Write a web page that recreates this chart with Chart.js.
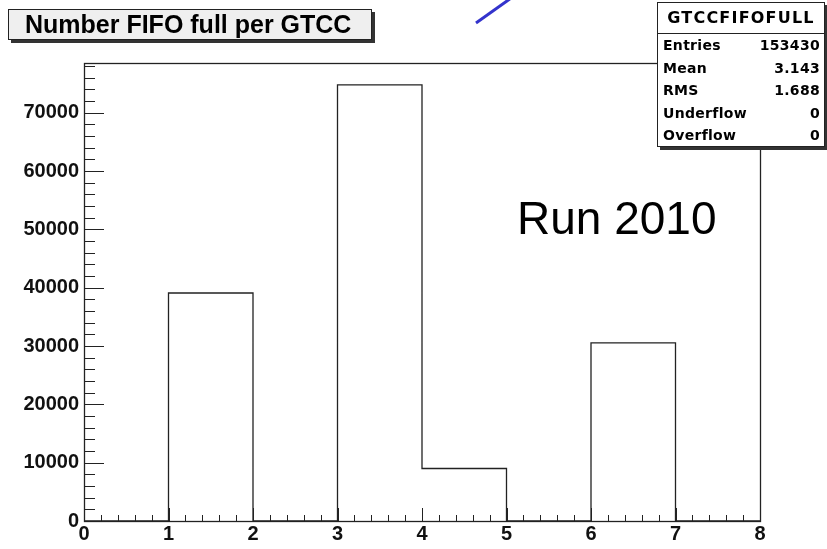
<!DOCTYPE html>
<html>
<head>
<meta charset="utf-8">
<script src="https://cdn.jsdelivr.net/npm/chart.js@4.4.1/dist/chart.umd.min.js"></script>
<style>
    body { margin: 0; background: #fff; font-family: "Liberation Sans", Arial, sans-serif; }
    #wrap { position: relative; width: 827px; height: 549px; }
    #chart { position: absolute; left: 0; top: 0; }
    .box { position: absolute; background: #fff; border: 1px solid #222; box-shadow: 3px 3px 0 #333; }
    #title-box { left: 8px; top: 9px; width: 364px; height: 31px; background: #efefef; box-sizing: border-box;
        font-weight: bold; font-size: 25px; line-height: 29px; padding-left: 16px; }
    #stats { left: 657px; top: 2px; width: 166px; height: 143px; font-weight: bold; font-size: 14px;
        font-family: "DejaVu Sans", sans-serif; }
    #stats .head { text-align: center; font-size: 16px; letter-spacing: 1.2px; height: 30px; line-height: 30px; border-bottom: 1px solid #222; }
    #stats .row { display: flex; justify-content: space-between; padding: 0 4px 0 5px; height: 22.6px; line-height: 23px; letter-spacing: 0.3px; }
    #run { position: absolute; left: 517px; top: 193px; font-size: 46px; line-height: 50px; }
    #arrow { position: absolute; left: 0; top: 0; }
</style>
</head>
<body>
<div id="wrap">
    <canvas id="chart" width="827" height="549"></canvas>
    <svg id="arrow" width="827" height="60"><line x1="476" y1="23" x2="514" y2="-4" stroke="#3333cc" stroke-width="3"/></svg>
    <div id="title-box" class="box">Number FIFO full per GTCC</div>
    <div id="stats" class="box">
        <div class="head">GTCCFIFOFULL</div>
        <div class="row"><span>Entries</span><span>153430</span></div>
        <div class="row"><span>Mean</span><span>3.143</span></div>
        <div class="row"><span>RMS</span><span>1.688</span></div>
        <div class="row"><span>Underflow</span><span>0</span></div>
        <div class="row"><span>Overflow</span><span>0</span></div>
    </div>
    <div id="run">Run 2010</div>
</div>
<script>
// histogram bins (edges) and contents
const binEdges = [0, 1, 2, 3, 4, 5, 6, 7, 8];
const binCounts = [0, 39100, 0, 74800, 9000, 0, 30530, 0];
const xTicks = [0, 1, 2, 3, 4, 5, 6, 7, 8];
const yTicks = [0, 10000, 20000, 30000, 40000, 50000, 60000, 70000];
const yMax = 78540;

const points = binEdges.map((x, i) => ({ x: x, y: binCounts[Math.min(i, binCounts.length - 1)] }));

const labelFont = { family: '"Liberation Sans", Arial, sans-serif', size: 20, weight: 'bold' };

// frame and ROOT-style inward ticks
const frameTicks = {
    id: 'frameTicks',
    afterDraw(chart) {
        const { ctx, chartArea: a, scales } = chart;
        const xs = scales.x, ys = scales.y;
        ctx.save();
        ctx.strokeStyle = '#222';
        ctx.lineWidth = 1;
        ctx.beginPath();
        for (let v = 0; v <= yMax; v += 2000) {
            const py = Math.round(ys.getPixelForValue(v)) + 0.5;
            const len = v % 10000 === 0 ? 20 : 11;
            ctx.moveTo(a.left, py);
            ctx.lineTo(a.left + len, py);
        }
        for (let v = 0; v <= 8.001; v += 0.2) {
            const px = Math.round(xs.getPixelForValue(v)) + 0.5;
            const major = Math.abs(v - Math.round(v)) < 0.01;
            ctx.moveTo(px, a.bottom);
            ctx.lineTo(px, a.bottom - (major ? 13 : 6));
        }
        ctx.stroke();
        ctx.lineWidth = 1.3;
        ctx.strokeRect(Math.round(a.left) + 0.5, Math.round(a.top) + 0.5, Math.round(a.right - a.left), Math.round(a.bottom - a.top));
        ctx.restore();
    }
};

new Chart(document.getElementById('chart'), {
    type: 'line',
    data: {
        datasets: [{
            data: points,
            stepped: 'before',
            borderColor: '#222',
            borderWidth: 1.3,
            pointRadius: 0,
            fill: false
        }]
    },
    options: {
        responsive: false,
        animation: false,
        layout: { padding: { top: 63, right: 67, left: 0, bottom: 0 } },
        plugins: { legend: { display: false }, tooltip: { enabled: false } },
        scales: {
            x: {
                type: 'linear',
                min: 0,
                max: 8,
                afterBuildTicks: s => { s.ticks = xTicks.map(v => ({ value: v })); },
                afterFit: s => { s.height = 28; },
                grid: { display: false, drawTicks: false },
                border: { display: false },
                ticks: { font: labelFont, color: '#111', padding: 1, maxRotation: 0, autoSkip: false, callback: v => String(v) }
            },
            y: {
                min: 0,
                max: yMax,
                afterBuildTicks: s => { s.ticks = yTicks.map(v => ({ value: v })); },
                afterFit: s => { s.width = 84; },
                grid: { display: false, drawTicks: false },
                border: { display: false },
                ticks: { font: labelFont, color: '#111', padding: 5, callback: v => String(v) }
            }
        }
    },
    plugins: [frameTicks]
});
</script>
</body>
</html>
